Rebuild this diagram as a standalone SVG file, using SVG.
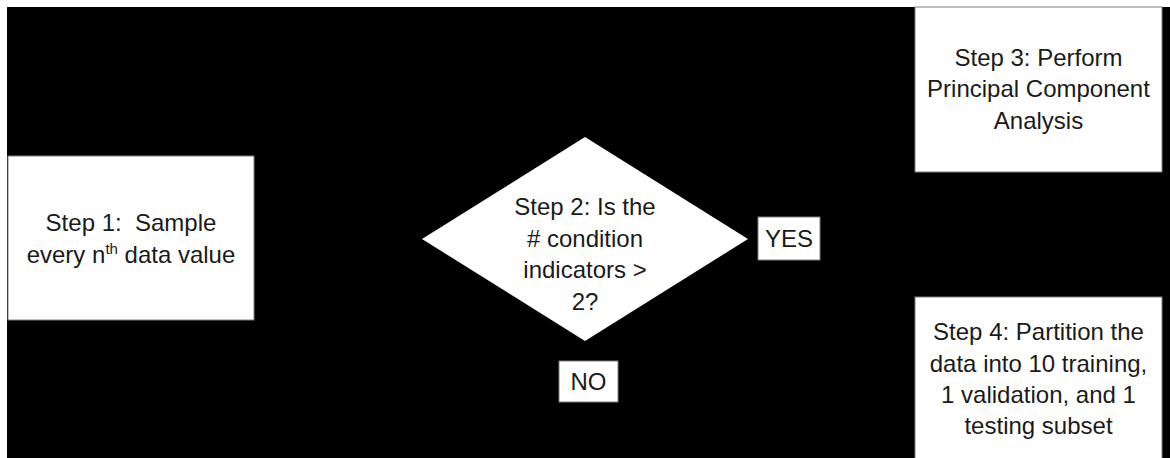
<svg xmlns="http://www.w3.org/2000/svg" width="1170" height="458" viewBox="0 0 1170 458">
<style>
.box{fill:#fff;stroke:#7f7f7f;stroke-width:1}
.t{font-family:"Liberation Sans",Arial,sans-serif;font-size:24px;fill:#1a1a1a;text-anchor:middle}
</style>
<rect x="0" y="0" width="1170" height="458" fill="#fff"/>
<rect x="7" y="7" width="1163" height="451" fill="#000"/>
<g id="connectors"></g>
<g id="step1">
<rect class="box" x="8" y="156" width="246" height="164"/>
<text class="t" x="131" y="231">Step 1:&#160; Sample</text>
<text class="t" x="131" y="263">every n<tspan font-size="15" dy="-9">th</tspan><tspan dy="9"> data value</tspan></text>
</g>
<g id="step2">
<polygon points="585,137 748,239 585,341 422,239" fill="#fff"/>
<text class="t" x="585" y="215">Step 2: Is the</text>
<text class="t" x="585" y="247"># condition</text>
<text class="t" x="585" y="278">indicators &gt;</text>
<text class="t" x="585" y="310">2?</text>
</g>
<g id="yes">
<rect class="box" x="758" y="217" width="62" height="43"/>
<text class="t" x="789" y="247">YES</text>
</g>
<g id="no">
<rect class="box" x="559" y="361" width="59" height="41"/>
<text class="t" x="588.5" y="390">NO</text>
</g>
<g id="step3">
<rect class="box" x="915" y="7" width="247" height="165"/>
<text class="t" x="1038.5" y="66">Step 3: Perform</text>
<text class="t" x="1038.5" y="97">Principal Component</text>
<text class="t" x="1038.5" y="129">Analysis</text>
</g>
<g id="step4">
<rect class="box" x="915" y="297" width="247" height="165"/>
<text class="t" x="1038.5" y="340">Step 4: Partition the</text>
<text class="t" x="1038.5" y="372">data into 10 training,</text>
<text class="t" x="1038.5" y="403">1 validation, and 1</text>
<text class="t" x="1038.5" y="434">testing subset</text>
</g>
</svg>
